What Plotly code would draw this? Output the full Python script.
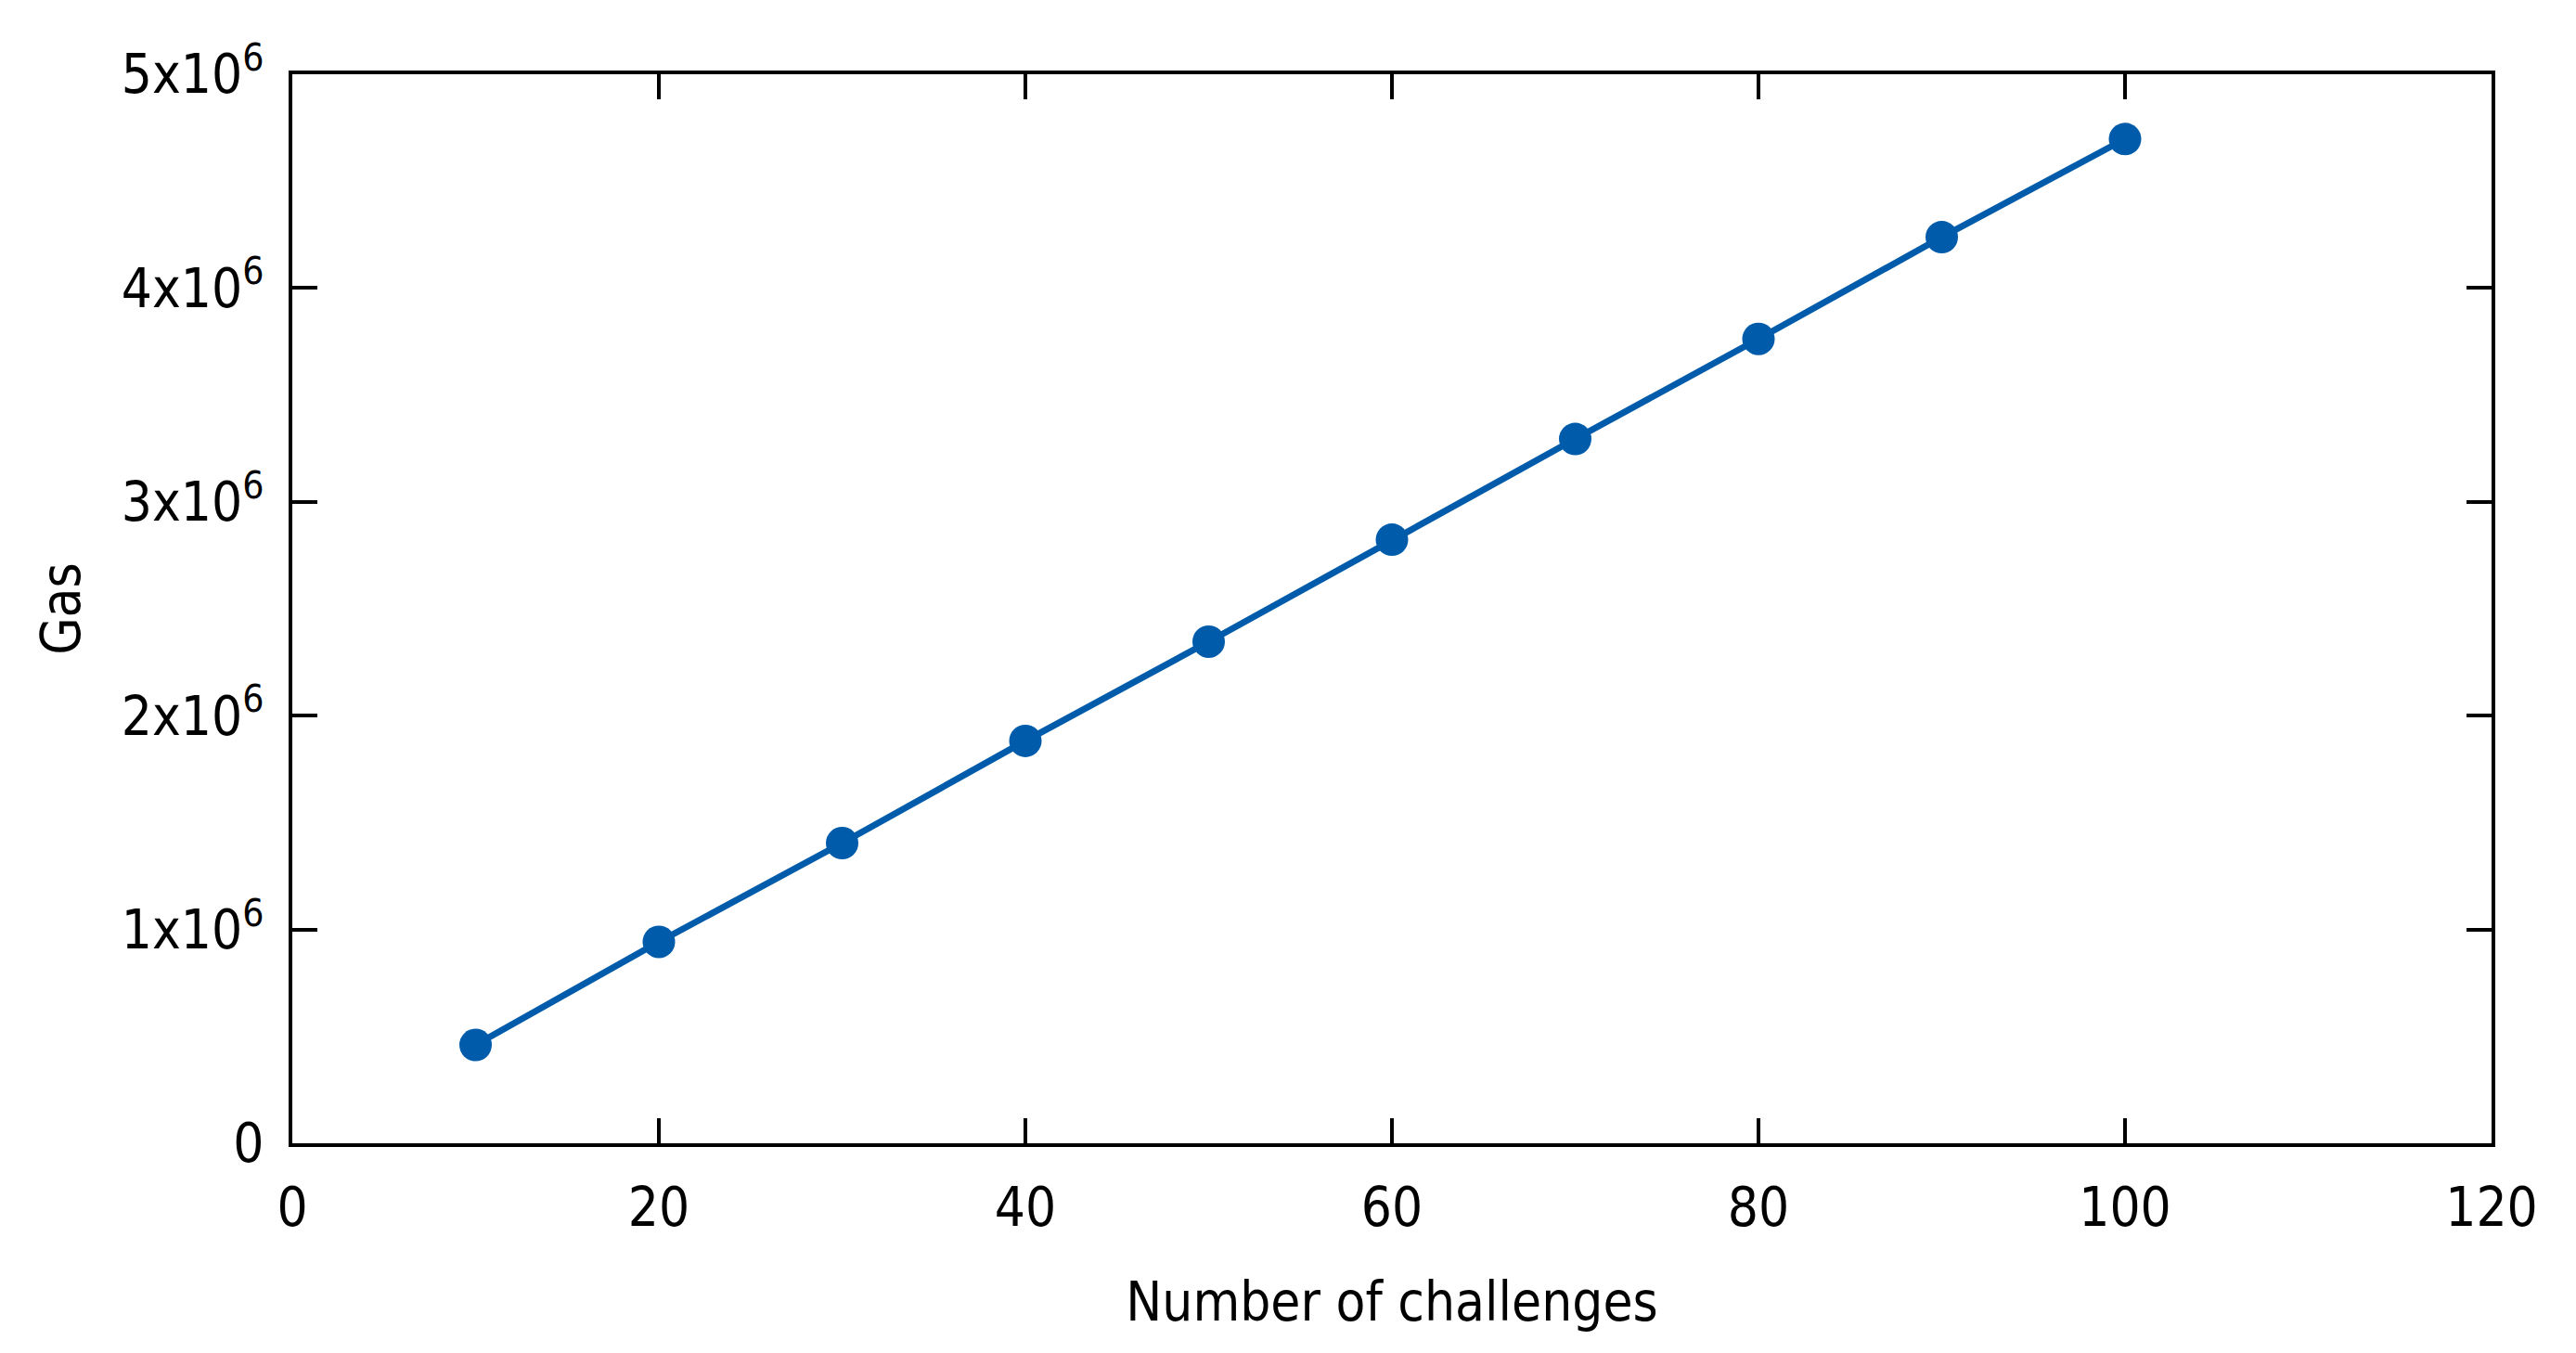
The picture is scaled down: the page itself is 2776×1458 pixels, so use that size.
import plotly.graph_objects as go

# data
challenges = [10, 20, 30, 40, 50, 60, 70, 80, 90, 100]
gas = [0.460e6, 0.942e6, 1.404e6, 1.882e6, 2.346e6, 2.823e6, 3.294e6, 3.762e6, 4.238e6, 4.697e6]

x_ticks = [0, 20, 40, 60, 80, 100, 120]
y_ticks = [0, 1e6, 2e6, 3e6, 4e6, 5e6]
y_ticktext = ["0", "1x10<sup>6</sup>", "2x10<sup>6</sup>", "3x10<sup>6</sup>",
              "4x10<sup>6</sup>", "5x10<sup>6</sup>"]

FONT = "DejaVu Sans Condensed, DejaVu Sans, sans-serif"
BLUE = "#005cab"

fig = go.Figure([
    go.Scatter(x=challenges, y=gas, mode="lines+markers",
               line=dict(color=BLUE, width=7),
               marker=dict(color=BLUE, size=35),
               showlegend=False)
])

axis_style = dict(
    showline=True, linecolor="black", linewidth=4, mirror="ticks",
    ticks="inside", ticklen=27, tickwidth=4, tickcolor="black",
    showgrid=False, zeroline=False,
    tickfont=dict(family=FONT, size=58, color="black"),
)

fig.update_xaxes(
    range=[0, 120], tickvals=x_ticks, ticklabelstandoff=15,
    title=dict(text="Number of challenges", font=dict(family=FONT, size=58, color="black"),
               standoff=50),
    **axis_style,
)
fig.update_yaxes(
    range=[0, 5e6], tickvals=y_ticks, ticktext=y_ticktext, ticklabelstandoff=15,
    title=dict(text="Gas", font=dict(family=FONT, size=58, color="black"), standoff=26),
    **axis_style,
)

# page body has an 8px default margin, so the figure is a bit smaller than the window
fig.update_layout(
    width=2760, height=1442,
    margin=dict(l=307, r=83, t=72, b=218, autoexpand=False),
    plot_bgcolor="white", paper_bgcolor="white",
    font=dict(family=FONT, size=58, color="black"),
)

fig.write_html("out.html")
